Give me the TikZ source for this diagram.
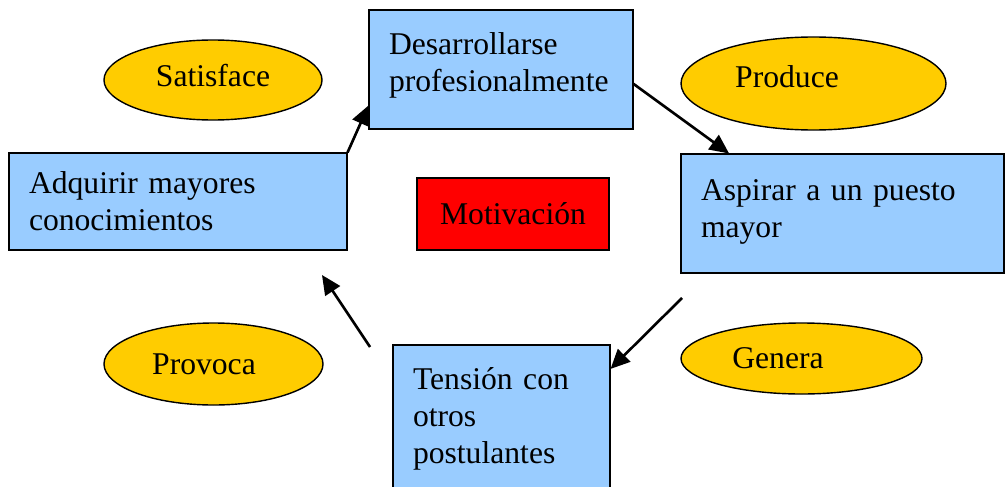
\documentclass[tikz,border=0pt]{standalone}
\usepackage{fontspec}
\setmainfont{Liberation Serif}
\usetikzlibrary{arrows.meta, positioning, calc, shapes.geometric}

\definecolor{cajaazul}{HTML}{99CCFF}
\definecolor{elipseoro}{HTML}{FFCC00}

\begin{document}
\begin{tikzpicture}[
                        every node/.style={font=\fontsize{18}{21}\selectfont},
                        caja/.style={rectangle, draw, fill=cajaazul, line width=0.6pt, align=left, inner xsep=0.4cm},
                        elipse/.style={ellipse, draw, fill=elipseoro, line width=0.8pt, inner sep=0pt},
                        flecha/.style={-{Triangle[length=11pt,width=10pt]}, line width=1.5pt}
                ]
                \clip (0,0) rectangle (20.1,9.72);
                \node [caja, minimum width=5.28cm, minimum height=2.38cm, text width=4.48cm] (des) at (10.02,8.33) {Desarrollarse\\profesionalmente\\[-13pt]\mbox{}};
                \node [caja, minimum width=6.46cm, minimum height=2.38cm, text width=5.66cm] (asp) at (16.85,5.45) {Aspirar a un puesto\\mayor\\[-15pt]\mbox{}};
                \node [caja, minimum width=6.76cm, minimum height=1.94cm, text width=5.96cm] (adq) at (3.56,5.69) {Adquirir mayores\\conocimientos};
                \node [caja, minimum width=4.34cm, minimum height=2.94cm, text width=3.54cm] (ten) at (10.03,1.35) {Tensión con\\otros\\postulantes};
                \node [rectangle, draw, fill=red, line width=0.6pt, minimum width=3.84cm, minimum height=1.44cm] (mot) at (10.26,5.44) {Motivación};

                \node [elipse, minimum width=4.36cm, minimum height=1.6cm, label={[yshift=0.08cm]center:Satisface}] (sat) at (4.26,8.12) {};
                \node [elipse, minimum width=5.3cm, minimum height=1.86cm, label={[xshift=-0.53cm, yshift=0.13cm]center:Produce}] (pro) at (16.27,8.05) {};
                \node [elipse, minimum width=4.82cm, minimum height=1.42cm, label={[xshift=-0.47cm]center:Genera}] (gen) at (16.03,2.55) {};
                \node [elipse, minimum width=4.38cm, minimum height=1.64cm, label={[xshift=-0.19cm]center:Provoca}] (prv) at (4.27,2.44) {};

                \coordinate (c1) at (13.64,3.76);
                \coordinate (c2) at (7.40,2.78);
                \coordinate (c3) at (6.44,4.22);

                \draw [flecha] (adq.north east) -- ($(des.west)!0.6!(des.south west)$);
                \draw [flecha] ($(des.east)!0.24!(des.south east)$) -- ($(asp.north west)!0.15!(asp.north east)$);
                \draw [flecha] (c1) -- ($(ten.north east)!0.33!(ten.east)$);
                \draw [flecha] (c2) -- (c3);
\end{tikzpicture}
\end{document}
